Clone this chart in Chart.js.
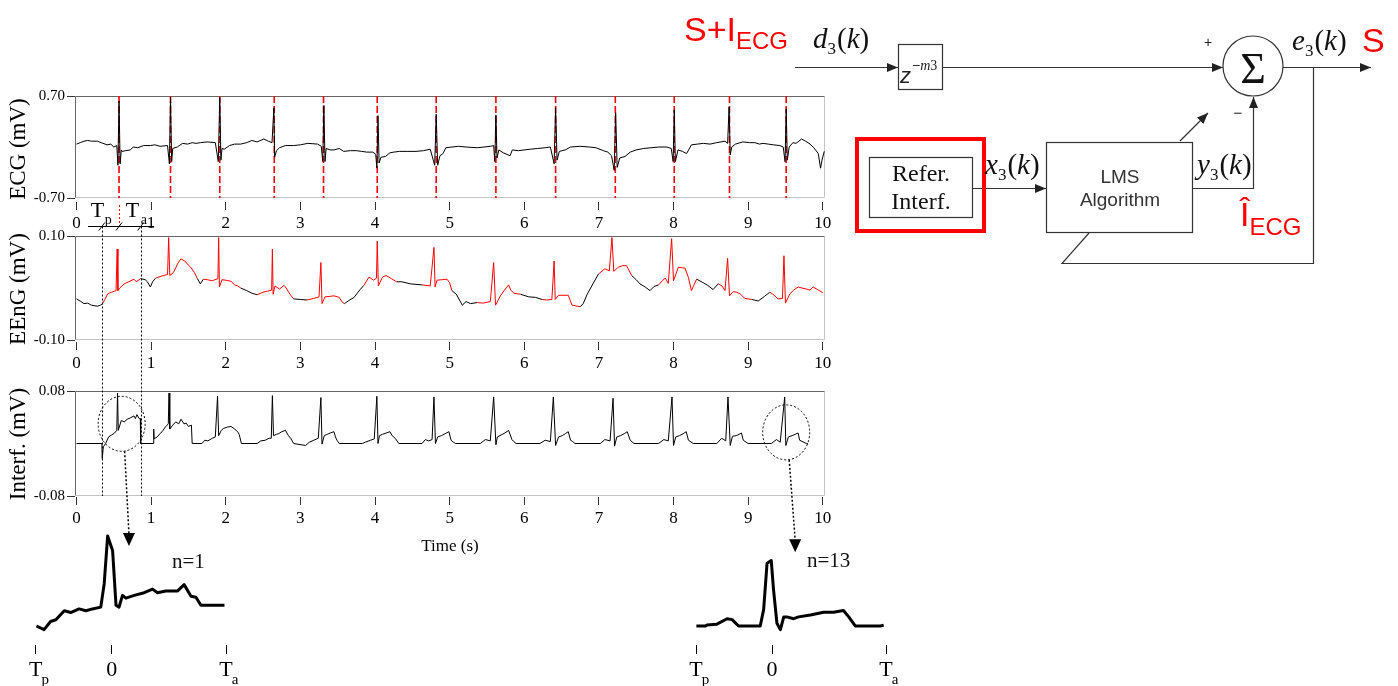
<!DOCTYPE html>
<html>
<head>
<meta charset="utf-8">
<script src="https://cdn.jsdelivr.net/npm/chart.js@4.4.0/dist/chart.umd.min.js"></script>
<style>
  html, body { margin: 0; padding: 0; background: #fff; width: 1398px; height: 686px; overflow: hidden; position: relative; }
  canvas.plot { position: absolute; }
  #diagram { position: absolute; left: 0; top: 0; }
</style>
</head>
<body>
<canvas id="ecg" class="plot" width="840" height="150" style="left:0;top:85px"></canvas>
<canvas id="eeng" class="plot" width="840" height="150" style="left:0;top:225px"></canvas>
<canvas id="interf" class="plot" width="840" height="180" style="left:0;top:380px"></canvas>
<canvas id="inset1" class="plot" width="260" height="166" style="left:0;top:520px"></canvas>
<canvas id="inset2" class="plot" width="260" height="166" style="left:670px;top:520px"></canvas>
<canvas id="overlay" class="plot" width="1398" height="686" style="left:0;top:0"></canvas>

<svg id="diagram" width="1398" height="686" font-family="'Liberation Sans', Arial, sans-serif">
  <defs>
    <marker id="ah" markerWidth="11" markerHeight="9" refX="11" refY="4.5" orient="auto" markerUnits="userSpaceOnUse">
      <path d="M0,0 L11,4.5 L0,9 z" fill="#222"/>
    </marker>
  </defs>
  <g stroke="#333" stroke-width="1.2" fill="none">
    <line x1="795" y1="67.5" x2="898" y2="67.5" marker-end="url(#ah)"/>
    <rect x="898.5" y="44.5" width="44" height="45"/>
    <line x1="943" y1="67.5" x2="1223" y2="67.5" marker-end="url(#ah)"/>
    <circle cx="1253" cy="66" r="30"/>
    <line x1="1283" y1="67.5" x2="1371" y2="67.5" marker-end="url(#ah)"/>
    <polyline points="1313.5,67.5 1313.5,263.5 1062,263.5 1089,233"/>
    <rect x="869.5" y="157.5" width="103" height="60"/>
    <line x1="973" y1="188.5" x2="1046" y2="188.5" marker-end="url(#ah)"/>
    <rect x="1046.5" y="142.5" width="146" height="90"/>
    <line x1="1180" y1="141" x2="1208" y2="113" marker-end="url(#ah)"/>
    <polyline points="1193,188.5 1253.5,188.5 1253.5,97" marker-end="url(#ah)"/>
  </g>
  <rect x="857" y="139" width="127" height="92" fill="none" stroke="#ff0000" stroke-width="4"/>

  <text x="684" y="41" fill="#ff0000" font-size="34">S+I<tspan font-size="24" dy="8">ECG</tspan></text>
  <text x="1362" y="52" fill="#ff0000" font-size="34">S</text>
  <text x="1240" y="226" fill="#ff0000" font-size="34">Î<tspan font-size="24" dy="9">ECG</tspan></text>

  <g font-family="'Liberation Serif', 'Times New Roman', serif" fill="#111">
    <text x="813" y="48" font-size="29"><tspan font-style="italic">d</tspan><tspan font-size="17" dy="6">3</tspan><tspan dy="-6" dx="1">(</tspan><tspan font-style="italic">k</tspan>)</text>
    <text x="1292" y="50" font-size="29"><tspan font-style="italic">e</tspan><tspan font-size="17" dy="6">3</tspan><tspan dy="-6" dx="1">(</tspan><tspan font-style="italic">k</tspan>)</text>
    <text x="985" y="174" font-size="29"><tspan font-style="italic">x</tspan><tspan font-size="17" dy="6">3</tspan><tspan dy="-6" dx="1">(</tspan><tspan font-style="italic">k</tspan>)</text>
    <text x="1197" y="174" font-size="29"><tspan font-style="italic">y</tspan><tspan font-size="17" dy="6">3</tspan><tspan dy="-6" dx="1">(</tspan><tspan font-style="italic">k</tspan>)</text>
    <text x="1253" y="83" font-size="44" text-anchor="middle">Σ</text>
    <text x="921" y="181" font-size="24" text-anchor="middle">Refer.</text>
    <text x="921" y="209" font-size="24" text-anchor="middle">Interf.</text>
    <text x="172" y="568" font-size="21">n=1</text>
    <text x="807" y="567" font-size="21">n=13</text>
  </g>
  <text x="900" y="83" font-size="22" font-style="italic" fill="#222">z</text>
  <text x="912" y="70" font-size="14" fill="#222">−<tspan font-style="italic" font-family="'Liberation Serif', serif">m</tspan><tspan font-family="'Liberation Serif', serif">3</tspan></text>
  <text x="1208" y="47" font-size="14" text-anchor="middle" fill="#222">+</text>
  <text x="1238" y="118" font-size="15" text-anchor="middle" fill="#222">−</text>
  <text x="1120" y="183" font-size="19" text-anchor="middle" fill="#333">LMS</text>
  <text x="1120" y="206" font-size="19" text-anchor="middle" fill="#333">Algorithm</text>
</svg>

<script>
const SERIF = "'Liberation Serif', 'Times New Roman', serif";
const RED = '#ff0000';

// Time axis ticks (s) and amplitude ticks (mV) of the three panels
const timeTicks = [0, 1, 2, 3, 4, 5, 6, 7, 8, 9, 10];
const ecgYTicks = [-0.70, 0.70];
const eengYTicks = [-0.10, 0.10];
const interfYTicks = [-0.08, 0.08];

// R-peak instants marked on the ECG (s)
const rPeakTimes = [0.57, 1.26, 1.92, 2.65, 3.31, 4.03, 4.82, 5.62, 6.42, 7.22, 8.01, 8.75, 9.51];

// Analysis windows [Tp, Ta] around each beat (s)
const windowStart = [0.34, 1.05, 1.70, 2.42, 3.08, 3.86, 4.62, 5.40, 6.20, 7.01, 7.80, 8.58, 9.30];
const windowEnd   = [0.86, 1.64, 2.20, 2.92, 3.58, 4.30, 5.06, 5.92, 6.74, 7.46, 8.30, 9.08, 10.0];

// ECG trace: [time s, mV]
const ecgTrace = [[0.00,0.04],[0.05,0.06],[0.10,0.08],[0.15,0.09],[0.20,0.08],[0.28,0.08],[0.33,0.06],[0.41,0.03],[0.46,0.04],[0.50,0.00],[0.54,0.02],[0.555,-0.25],[0.57,0.63],[0.585,-0.23],[0.60,-0.04],[0.61,-0.06],[0.66,-0.05],[0.72,-0.04],[0.76,0.00],[0.82,-0.01],[0.90,0.02],[0.99,0.02],[1.05,0.03],[1.12,0.01],[1.22,0.02],[1.245,-0.23],[1.26,0.68],[1.275,-0.20],[1.29,-0.02],[1.35,0.00],[1.42,0.05],[1.49,0.04],[1.55,0.06],[1.60,0.05],[1.66,0.06],[1.75,0.07],[1.86,0.06],[1.90,-0.20],[1.92,0.68],[1.935,-0.18],[1.95,-0.02],[1.98,-0.03],[2.05,0.02],[2.12,0.04],[2.20,0.04],[2.28,0.06],[2.35,0.09],[2.42,0.07],[2.51,0.11],[2.57,0.08],[2.62,0.06],[2.645,0.54],[2.655,-0.14],[2.68,-0.05],[2.72,-0.01],[2.80,0.02],[2.91,0.02],[3.00,0.03],[3.10,0.05],[3.23,0.04],[3.28,0.01],[3.30,-0.20],[3.315,0.57],[3.33,-0.20],[3.345,-0.02],[3.40,-0.04],[3.45,-0.04],[3.52,-0.02],[3.58,-0.06],[3.67,-0.05],[3.75,-0.05],[3.82,-0.06],[3.89,-0.07],[3.97,-0.07],[4.01,-0.10],[4.025,-0.29],[4.04,0.43],[4.055,-0.22],[4.08,-0.14],[4.14,-0.13],[4.20,-0.08],[4.25,-0.07],[4.33,-0.06],[4.43,-0.06],[4.55,-0.06],[4.65,-0.05],[4.74,-0.03],[4.80,-0.25],[4.82,0.45],[4.84,-0.25],[4.87,-0.12],[4.91,-0.09],[4.95,-0.01],[5.03,0.00],[5.12,0.01],[5.22,0.00],[5.37,-0.01],[5.46,0.00],[5.545,0.01],[5.59,0.02],[5.605,-0.20],[5.62,0.44],[5.635,-0.15],[5.66,-0.04],[5.72,-0.08],[5.81,-0.12],[5.84,-0.04],[5.92,-0.05],[6.08,-0.03],[6.18,-0.02],[6.28,-0.01],[6.35,0.00],[6.40,-0.23],[6.42,0.54],[6.44,-0.18],[6.47,-0.06],[6.55,-0.04],[6.62,0.00],[6.75,0.01],[6.87,0.00],[6.96,-0.01],[7.06,-0.05],[7.12,-0.07],[7.17,-0.12],[7.205,-0.32],[7.225,0.47],[7.245,-0.28],[7.28,-0.15],[7.35,-0.13],[7.42,-0.07],[7.50,-0.04],[7.60,-0.02],[7.70,-0.01],[7.80,0.00],[7.91,0.00],[7.97,-0.02],[7.995,-0.20],[8.01,0.51],[8.025,-0.20],[8.06,-0.04],[8.12,-0.06],[8.175,-0.09],[8.24,0.03],[8.32,0.04],[8.40,0.05],[8.49,0.04],[8.58,0.06],[8.69,0.08],[8.725,0.05],[8.745,0.55],[8.76,-0.11],[8.78,0.00],[8.83,0.04],[8.93,0.07],[9.02,0.06],[9.09,0.06],[9.15,0.04],[9.20,0.05],[9.27,0.04],[9.34,0.03],[9.425,0.02],[9.47,0.00],[9.495,-0.20],[9.51,0.52],[9.525,-0.18],[9.55,0.00],[9.60,0.06],[9.64,0.05],[9.68,0.08],[9.715,0.11],[9.77,0.08],[9.83,0.04],[9.88,-0.01],[9.94,-0.09],[9.97,-0.29],[9.99,-0.18],[10.02,-0.06]];

// EEnG trace: [time s, mV]
const eengTrace = [[0.00,-0.021],[0.05,-0.025],[0.10,-0.030],[0.15,-0.029],[0.20,-0.033],[0.28,-0.035],[0.32,-0.033],[0.35,-0.030],[0.38,-0.022],[0.42,-0.011],[0.47,-0.008],[0.53,-0.005],[0.545,0.075],[0.555,-0.005],[0.58,0.000],[0.64,0.008],[0.70,0.012],[0.77,0.017],[0.80,0.012],[0.86,0.018],[0.92,0.016],[0.95,0.012],[0.99,0.002],[1.02,0.012],[1.06,0.019],[1.12,0.022],[1.17,0.024],[1.22,0.026],[1.235,0.097],[1.25,0.024],[1.30,0.030],[1.36,0.048],[1.40,0.056],[1.45,0.052],[1.50,0.044],[1.53,0.040],[1.58,0.030],[1.62,0.018],[1.66,0.008],[1.70,0.017],[1.75,0.016],[1.82,0.014],[1.895,0.018],[1.905,0.097],[1.915,0.002],[1.95,0.016],[2.00,0.015],[2.07,0.013],[2.12,0.006],[2.16,0.004],[2.20,0.000],[2.28,-0.005],[2.35,-0.010],[2.42,-0.013],[2.50,-0.008],[2.56,-0.006],[2.615,-0.004],[2.625,0.075],[2.635,-0.012],[2.66,0.004],[2.72,-0.002],[2.78,0.005],[2.80,0.002],[2.86,-0.012],[2.91,-0.021],[3.00,-0.022],[3.09,-0.023],[3.18,-0.020],[3.25,-0.017],[3.275,0.049],[3.29,-0.030],[3.33,-0.017],[3.40,-0.016],[3.45,-0.015],[3.52,-0.018],[3.56,-0.027],[3.59,-0.030],[3.65,-0.024],[3.72,-0.018],[3.80,-0.003],[3.85,0.005],[3.92,0.021],[3.98,0.015],[4.02,0.019],[4.03,0.090],[4.045,0.004],[4.10,0.021],[4.15,0.024],[4.22,0.018],[4.29,0.012],[4.36,0.012],[4.475,0.008],[4.55,0.007],[4.63,0.006],[4.74,0.004],[4.79,0.078],[4.805,0.002],[4.83,0.015],[4.90,0.016],[4.965,0.017],[5.00,0.010],[5.03,-0.005],[5.09,-0.012],[5.17,-0.033],[5.22,-0.026],[5.28,-0.030],[5.37,-0.028],[5.45,-0.029],[5.545,-0.026],[5.59,0.049],[5.615,-0.033],[5.68,-0.015],[5.73,-0.005],[5.79,0.006],[5.82,-0.004],[5.86,-0.010],[5.95,-0.012],[6.06,-0.017],[6.15,-0.018],[6.24,-0.022],[6.30,-0.023],[6.37,-0.022],[6.40,0.052],[6.415,-0.022],[6.46,-0.014],[6.52,-0.014],[6.59,-0.014],[6.64,-0.033],[6.75,-0.036],[6.79,-0.030],[6.84,-0.013],[6.92,0.008],[6.995,0.027],[7.08,0.037],[7.14,0.033],[7.175,0.097],[7.20,0.032],[7.26,0.040],[7.32,0.043],[7.37,0.043],[7.44,0.024],[7.50,0.016],[7.55,0.008],[7.62,0.002],[7.685,-0.005],[7.74,0.003],[7.80,0.006],[7.85,0.014],[7.89,0.019],[7.93,0.009],[7.975,0.095],[8.00,0.014],[8.065,0.040],[8.155,0.038],[8.20,0.020],[8.24,-0.005],[8.31,0.017],[8.40,0.010],[8.46,0.005],[8.53,-0.003],[8.60,0.008],[8.65,0.004],[8.69,-0.005],[8.725,0.057],[8.75,-0.015],[8.80,-0.007],[8.845,-0.008],[8.90,-0.012],[8.955,-0.020],[9.05,-0.022],[9.135,-0.025],[9.22,-0.016],[9.29,-0.008],[9.35,-0.014],[9.40,-0.021],[9.46,-0.020],[9.48,0.062],[9.50,-0.029],[9.56,-0.011],[9.61,-0.004],[9.67,0.002],[9.72,0.000],[9.78,-0.002],[9.83,-0.004],[9.87,0.002],[9.93,-0.003],[10.00,-0.009]];

// Reference interference: [time s, mV]
const interfTrace = [[0.00,0],[0.34,0],[0.345,-0.023],[0.36,-0.005],[0.39,0.000],[0.43,0.010],[0.47,0.013],[0.51,0.016],[0.54,0.020],[0.55,0.077],[0.56,0.020],[0.60,0.035],[0.64,0.033],[0.68,0.037],[0.72,0.039],[0.77,0.042],[0.79,0.038],[0.81,0.044],[0.84,0.038],[0.855,0.038],[0.86,0],[1.03,0],[1.035,0.022],[1.04,0.007],[1.08,0.010],[1.12,0.015],[1.16,0.020],[1.19,0.025],[1.23,0.030],[1.24,0.077],[1.25,0.022],[1.29,0.028],[1.33,0.033],[1.37,0.030],[1.40,0.037],[1.44,0.030],[1.47,0.031],[1.50,0.026],[1.54,0.028],[1.55,0],[1.68,0],[1.72,0.005],[1.76,0.004],[1.82,0.008],[1.86,0.010],[1.89,0.072],[1.905,0.012],[1.94,0.020],[1.97,0.023],[2.02,0.025],[2.07,0.026],[2.12,0.022],[2.16,0.018],[2.18,0.014],[2.21,0],[2.42,0],[2.47,0.004],[2.53,0.005],[2.58,0.008],[2.61,0.008],[2.625,0.073],[2.64,0.012],[2.68,0.014],[2.71,0.015],[2.75,0.018],[2.80,0.020],[2.84,0.012],[2.87,0.008],[2.91,0],[3.07,-0.003],[3.12,0.002],[3.18,0.005],[3.24,0.008],[3.275,0.070],[3.29,-0.001],[3.32,0.012],[3.36,0.014],[3.40,0.016],[3.45,0.018],[3.47,0.010],[3.49,0.005],[3.52,0],[3.83,0],[3.87,0.002],[3.94,0.005],[3.99,0.007],[4.025,0.072],[4.04,0.000],[4.06,0.012],[4.10,0.014],[4.15,0.016],[4.20,0.018],[4.23,0.012],[4.27,0.008],[4.32,0],[4.63,0],[4.675,0.006],[4.72,0.004],[4.765,0.006],[4.79,0.071],[4.81,0],[4.84,0.010],[4.89,0.012],[4.94,0.015],[4.99,0.018],[5.02,0.005],[5.05,0.002],[5.08,0],[5.41,0],[5.48,0.006],[5.545,0.004],[5.59,0.071],[5.62,-0.002],[5.64,0.010],[5.69,0.013],[5.74,0.016],[5.79,0.020],[5.835,0.006],[5.86,0.003],[5.89,0],[6.21,0],[6.28,0.005],[6.35,0.003],[6.39,0.071],[6.42,-0.003],[6.46,0.010],[6.51,0.012],[6.55,0.015],[6.59,0.018],[6.62,0.005],[6.65,0.003],[6.68,0],[7.02,0],[7.08,0.006],[7.15,0.004],[7.19,0.069],[7.21,-0.004],[7.24,0.010],[7.29,0.012],[7.34,0.015],[7.38,0.018],[7.42,0.005],[7.47,0],[7.80,0],[7.87,0.006],[7.93,0.004],[7.98,0.071],[8.00,-0.003],[8.03,0.010],[8.08,0.012],[8.13,0.015],[8.17,0.018],[8.20,0.005],[8.265,0],[8.58,0],[8.645,0.008],[8.70,0.004],[8.73,0.071],[8.76,-0.003],[8.79,0.011],[8.84,0.012],[8.88,0.014],[8.91,0.016],[8.935,0.005],[9.00,0],[9.31,0],[9.38,0.006],[9.43,0.002],[9.49,0.071],[9.505,-0.003],[9.54,0.010],[9.59,0.012],[9.63,0.014],[9.67,0.016],[9.69,0.005],[9.78,0],[9.80,0]];

// Estimated interference for beat n=1 and n=13: [time from R s, mV]
const beat1Trace = [[-0.198,-0.023],[-0.178,-0.027],[-0.161,-0.018],[-0.147,-0.016],[-0.125,-0.006],[-0.108,-0.008],[-0.086,-0.004],[-0.068,-0.006],[-0.051,-0.004],[-0.029,-0.002],[-0.020,0.024],[-0.011,0.077],[0.002,0.061],[0.011,0.000],[0.019,-0.002],[0.028,0.011],[0.037,0.008],[0.059,0.011],[0.085,0.014],[0.107,0.018],[0.120,0.014],[0.142,0.016],[0.173,0.016],[0.190,0.023],[0.208,0.010],[0.221,0.009],[0.234,0.000],[0.296,0.000]];
const beat13Trace = [[-0.199,0.000],[-0.175,0.000],[-0.171,0.001],[-0.145,0.002],[-0.118,0.008],[-0.105,0.007],[-0.088,0.000],[-0.031,0.000],[-0.022,0.018],[-0.013,0.069],[-0.002,0.072],[0.004,0.040],[0.013,0.003],[0.022,-0.004],[0.031,0.010],[0.039,0.010],[0.057,0.008],[0.070,0.010],[0.101,0.012],[0.136,0.015],[0.162,0.015],[0.188,0.017],[0.202,0.010],[0.219,0.000],[0.285,0.000],[0.294,0.001]];

// Window ticks of the beat plots
const beatTicks = [-0.2, 0, 0.3];
const beatTickLabels = [['T', 'p'], ['0', ''], ['T', 'a']];

const inWindow = t => windowStart.some((s, i) => t >= s && t <= windowEnd[i]);
const toPoints = arr => arr.map(([x, y]) => ({ x, y }));

// Box around each panel: darker top/left edges, lighter bottom/right edges
const panelFrame = {
  id: 'panelFrame',
  beforeDatasetsDraw(chart, args, o) {
    const { ctx, chartArea: a, scales: { y } } = chart;
    const t = Math.round(y.getPixelForValue(o.top)) + 0.5;
    const b = Math.round(y.getPixelForValue(o.bottom)) - 0.5;
    const l = Math.round(a.left) + 0.5, r = Math.round(a.right) - 0.5;
    ctx.save();
    ctx.lineWidth = 1;
    ctx.strokeStyle = '#c4c4c4';
    ctx.beginPath(); ctx.moveTo(r, t); ctx.lineTo(r, b); ctx.lineTo(l, b); ctx.stroke();
    ctx.strokeStyle = '#666';
    ctx.beginPath(); ctx.moveTo(l, b); ctx.lineTo(l, t); ctx.lineTo(r, t); ctx.stroke();
    ctx.restore();
  }
};

function panel(id, cfg) {
  return new Chart(document.getElementById(id), {
    type: 'line',
    data: { datasets: cfg.datasets },
    options: {
      animation: false, responsive: false, events: [],
      layout: { padding: { top: 10, right: 15, left: 0, bottom: 0 } },
      elements: { point: { radius: 0 }, line: { borderWidth: 1, tension: 0 } },
      plugins: {
        legend: { display: false }, tooltip: { enabled: false },
        panelFrame: { top: cfg.yTicks[1], bottom: cfg.yTicks[0] }
      },
      scales: {
        x: {
          type: 'linear', min: -0.02, max: 10.03,
          afterBuildTicks: s => { s.ticks = timeTicks.map(v => ({ value: v })); },
          afterFit: s => { s.height = cfg.xHeight; },
          grid: { drawOnChartArea: false, tickLength: 8, color: '#333' },
          border: { display: false },
          ticks: { color: '#000', font: { family: SERIF, size: 17 }, padding: 3, maxRotation: 0, autoSkip: false },
          title: cfg.xTitle
            ? { display: true, text: cfg.xTitle, color: '#000', font: { family: SERIF, size: 17 }, padding: { top: 0, bottom: 3 } }
            : { display: false }
        },
        y: {
          type: 'linear', min: cfg.yMin, max: cfg.yTicks[1],
          afterBuildTicks: s => { s.ticks = cfg.yTicks.map(v => ({ value: v })); },
          afterFit: s => { s.width = 75; },
          grid: { drawOnChartArea: false, tickLength: 8, color: '#333' },
          border: { display: false },
          ticks: { color: '#000', font: { family: SERIF, size: 15 }, padding: 2, callback: v => v.toFixed(2) },
          title: { display: true, text: cfg.yTitle, color: '#000', font: { family: SERIF, size: 23 }, padding: { top: 5, bottom: 0 } }
        }
      }
    },
    plugins: [panelFrame]
  });
}

// one dashed red mark per R peak, spanning the panel
const rPeakMarks = rPeakTimes.map(t => ({
  data: [{ x: t, y: ecgYTicks[1] }, { x: t, y: ecgYTicks[0] }],
  borderColor: RED, borderDash: [7, 3], borderWidth: 1.6, order: 1
}));

const ecgChart = panel('ecg', {
  yTicks: ecgYTicks, yMin: -0.7544, xHeight: 33, yTitle: 'ECG (mV)',
  datasets: [{ data: toPoints(ecgTrace), borderColor: '#000', order: 0 }, ...rPeakMarks]
});

const eengChart = panel('eeng', {
  yTicks: eengYTicks, yMin: -0.1038, xHeight: 33, yTitle: 'EEnG (mV)',
  datasets: [{
    data: toPoints(eengTrace), borderColor: '#000',
    segment: { borderColor: c => inWindow((c.p0.parsed.x + c.p1.parsed.x) / 2) ? RED : '#000' }
  }]
});

const interfChart = panel('interf', {
  yTicks: interfYTicks, yMin: -0.0815, xHeight: 63, yTitle: 'Interf. (mV)', xTitle: 'Time (s)',
  datasets: [{ data: toPoints(interfTrace), borderColor: '#000' }]
});

// Tick labels with subscripts under the beat plots
const beatLabels = {
  id: 'beatLabels',
  afterDraw(chart) {
    const { ctx, chartArea: a, scales: { x } } = chart;
    const base = a.bottom + 31;
    ctx.save();
    ctx.fillStyle = '#000';
    ctx.textAlign = 'left';
    ctx.textBaseline = 'alphabetic';
    beatTicks.forEach((v, i) => {
      const [main, sub] = beatTickLabels[i];
      const cx = x.getPixelForValue(v);
      ctx.font = `22px ${SERIF}`;
      const w = ctx.measureText(main).width;
      ctx.fillText(main, cx - w / 2, base);
      if (sub) {
        ctx.font = `15px ${SERIF}`;
        ctx.fillText(sub, cx + w / 2 - 1, base + 8);
      }
    });
    ctx.restore();
  }
};

function beatPlot(id, trace, yMin, yMax, padL, padR) {
  return new Chart(document.getElementById(id), {
    type: 'line',
    data: { datasets: [{ data: toPoints(trace), borderColor: '#000', borderWidth: 3, borderJoinStyle: 'round' }] },
    options: {
      animation: false, responsive: false, events: [],
      layout: { padding: { top: 10, right: padR, left: padL, bottom: 0 } },
      elements: { point: { radius: 0 }, line: { tension: 0 } },
      plugins: { legend: { display: false }, tooltip: { enabled: false } },
      scales: {
        x: {
          type: 'linear', min: -0.2, max: 0.3,
          afterBuildTicks: s => { s.ticks = beatTicks.map(v => ({ value: v })); },
          afterFit: s => { s.height = 41; },
          grid: { drawOnChartArea: false, tickLength: 9, color: '#000' },
          border: { display: false },
          ticks: { display: false }
        },
        y: { display: false, min: yMin, max: yMax }
      }
    },
    plugins: [beatLabels]
  });
}

const beat1Chart = beatPlot('inset1', beat1Trace, -0.0441, 0.0837, 35.7, 34);
const beat13Chart = beatPlot('inset2', beat13Trace, -0.0209, 0.1055, 26, 44);

// Annotations linking the panels and the beat plots
(function drawLinks() {
  const ctx = document.getElementById('overlay').getContext('2d');
  const ix = t => interfChart.scales.x.getPixelForValue(t);
  const iy = v => 380 + interfChart.scales.y.getPixelForValue(v);
  const bracketY = 226.5;

  ctx.lineWidth = 1;
  ctx.strokeStyle = '#000';

  // window limits of the first beat
  ctx.setLineDash([2, 2]);
  [windowStart[0], windowEnd[0]].forEach(t => {
    const x = Math.round(ix(t)) + 0.5;
    ctx.beginPath(); ctx.moveTo(x, bracketY); ctx.lineTo(x, iy(interfYTicks[0])); ctx.stroke();
  });

  // continuation of the first R mark below the ECG axis
  ctx.strokeStyle = RED;
  const xr = Math.round(ix(rPeakTimes[0])) + 0.5;
  ctx.beginPath(); ctx.moveTo(xr, 205); ctx.lineTo(xr, bracketY); ctx.stroke();

  // Tp / Ta bracket
  ctx.setLineDash([]);
  ctx.strokeStyle = '#000';
  ctx.beginPath(); ctx.moveTo(ix(0.155), bracketY); ctx.lineTo(ix(1.04), bracketY); ctx.stroke();
  [windowStart[0], rPeakTimes[0], windowEnd[0]].forEach(t => {
    const x = ix(t);
    ctx.beginPath(); ctx.moveTo(x - 3, bracketY + 4); ctx.lineTo(x + 3, bracketY - 4); ctx.stroke();
  });
  ctx.fillStyle = '#000';
  ctx.font = `22px ${SERIF}`;
  ctx.fillText('T', ix(windowStart[0]) - 11, 217);
  ctx.fillText('T', ix(windowEnd[0]) - 15, 217);
  ctx.font = `14px ${SERIF}`;
  ctx.fillText('p', ix(windowStart[0]) + 3, 224);
  ctx.fillText('a', ix(windowEnd[0]) + 0, 224);

  // circled beats and arrows towards their close-ups
  const links = [
    { t: 0.605, v: 0.030, chart: beat1Chart, left: 0, tipT: 0.045, tipV: 0.066 },
    { t: 9.51, v: 0.017, chart: beat13Chart, left: 670, tipT: 0.061, tipV: 0.081 }
  ];
  links.forEach(k => {
    const cx = ix(k.t), cy = iy(k.v), rx = 23.5, ry = 27.5;
    ctx.setLineDash([2, 2]);
    ctx.beginPath(); ctx.ellipse(cx, cy, rx, ry, 0, 0, Math.PI * 2); ctx.stroke();
    const ax = k.left + k.chart.scales.x.getPixelForValue(k.tipT);
    const ay = 520 + k.chart.scales.y.getPixelForValue(k.tipV);
    ctx.lineWidth = 1.5;
    ctx.beginPath(); ctx.moveTo(cx + 3, cy + ry); ctx.lineTo(ax, ay - 12); ctx.stroke();
    ctx.lineWidth = 1;
    ctx.setLineDash([]);
    ctx.beginPath(); ctx.moveTo(ax - 6, ay - 13); ctx.lineTo(ax + 6, ay - 13); ctx.lineTo(ax, ay); ctx.closePath(); ctx.fill();
  });
})();
</script>
</body>
</html>
